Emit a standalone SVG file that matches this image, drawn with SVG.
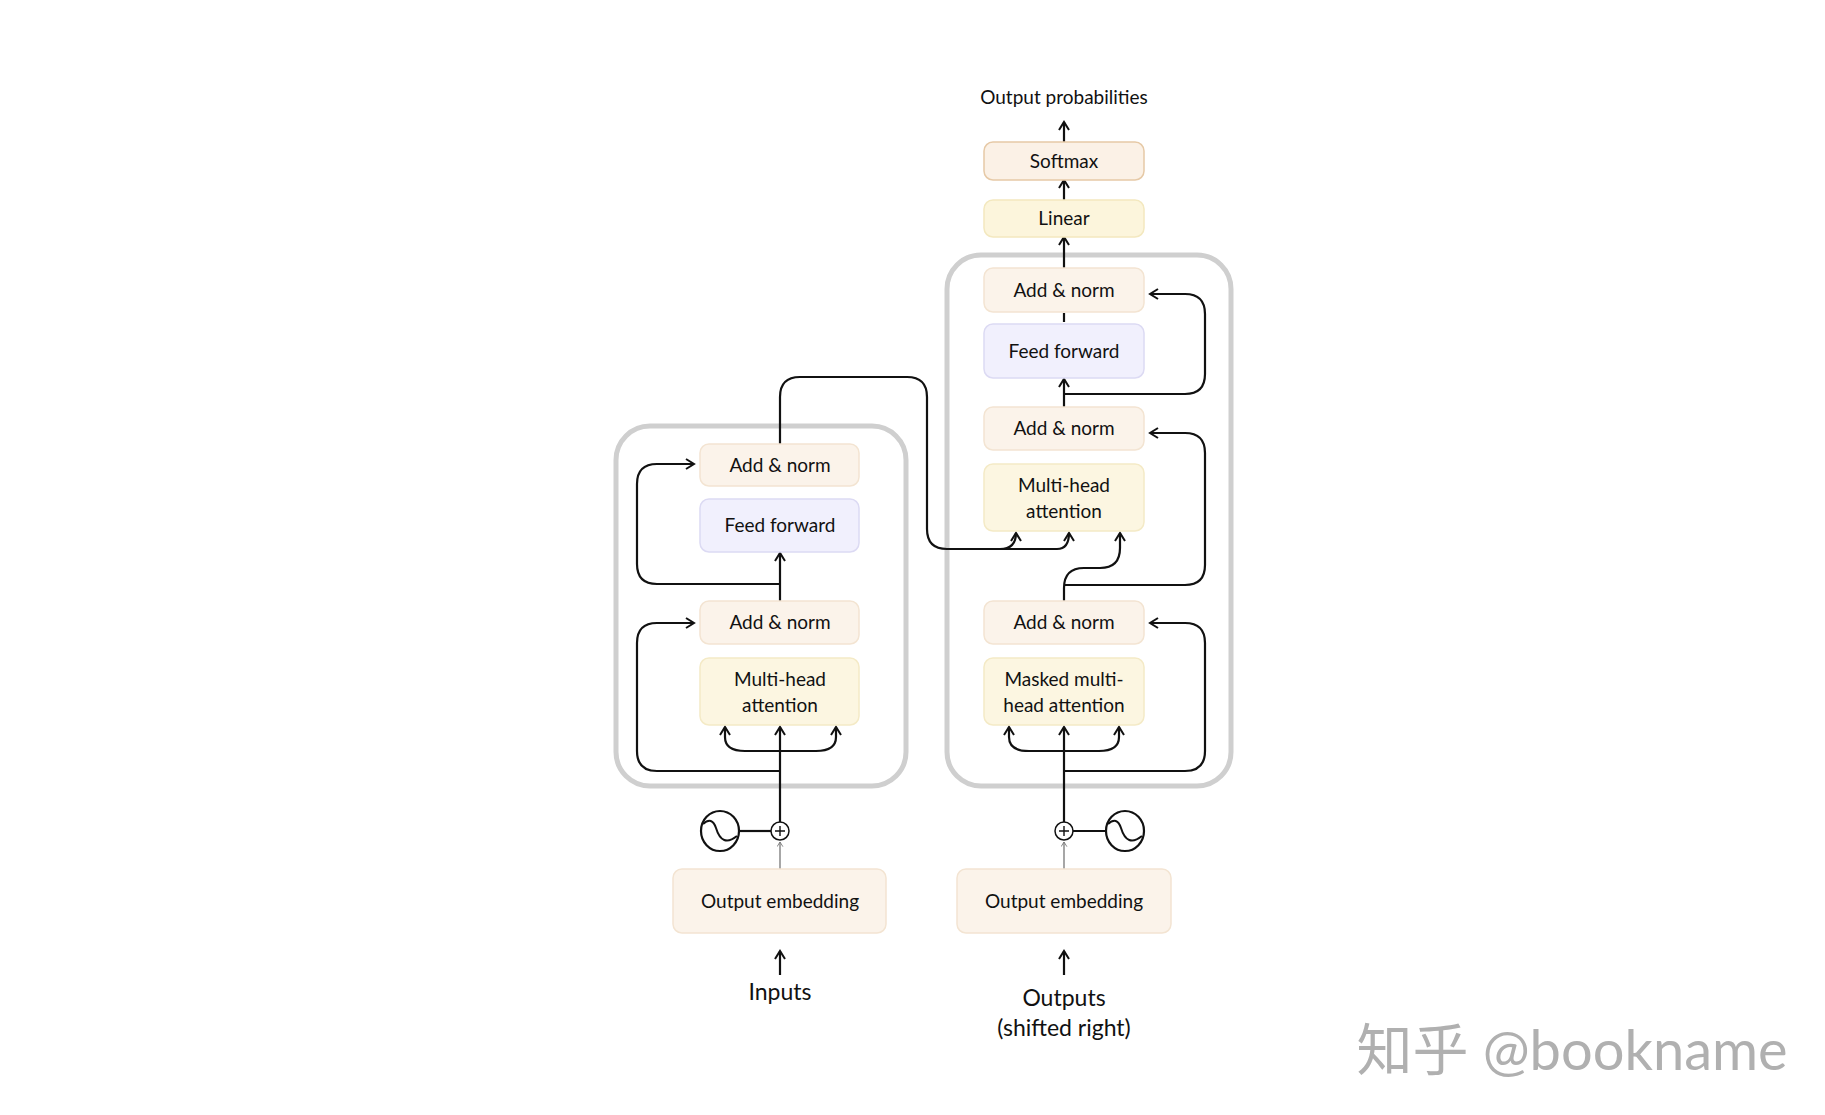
<svg xmlns="http://www.w3.org/2000/svg" width="1825" height="1115" viewBox="0 0 1825 1115">
<style>
text{font-family:Lato,"Noto Sans","Noto Sans CJK SC",sans-serif;fill:#111;text-anchor:middle}
.t{font-size:19px}
.an{fill:#fbf3ea;stroke:#f3e4d2;stroke-width:1.5}
.ff{fill:#f1f0fd;stroke:#dcdaf3;stroke-width:1.5}
.mh{fill:#fcf6e1;stroke:#f4eac6;stroke-width:1.5}
.sm{fill:#fbf1e6;stroke:#e6c9a6;stroke-width:1.5}
.ln{fill:#fcf5dc;stroke:#f3e8bf;stroke-width:1.5}
.blk{fill:none;stroke:#cfcfcf;stroke-width:5}
.c{fill:none;stroke:#111;stroke-width:2.2}
.a{marker-end:url(#ar)}
</style>
<defs>
<marker id="ar" viewBox="0 0 12 12" refX="10" refY="6" markerWidth="12" markerHeight="12" markerUnits="userSpaceOnUse" orient="auto">
<path d="M2,1 L10,6 L2,11" fill="none" stroke="#111" stroke-width="2"/>
</marker>
<marker id="ars" viewBox="0 0 12 12" refX="10" refY="6" markerWidth="7" markerHeight="7" markerUnits="userSpaceOnUse" orient="auto">
<path d="M2,1 L10,6 L2,11" fill="none" stroke="#777" stroke-width="1.5"/>
</marker>
</defs>
<rect width="1825" height="1115" fill="#fff"/>
<rect class="blk" x="616" y="426" width="290" height="360" rx="34"/>
<rect class="blk" x="947" y="255" width="284" height="531" rx="34"/>
<g id="connectors">
<!-- encoder -->
<path class="c" d="M780,831 V751"/>
<path class="c a" d="M780,751 V727"/>
<path class="c a" d="M780,751 H745 Q725,751 725,737 V727"/>
<path class="c a" d="M780,751 H816 Q836,751 836,737 V727"/>
<path class="c a" d="M780,771 H657 Q637,771 637,751 V643 Q637,623 657,623 H694"/>
<path class="c a" d="M780,601 V553"/>
<path class="c a" d="M780,584 H657 Q637,584 637,564 V484 Q637,464 657,464 H694"/>
<path class="c" d="M780,444 V397 Q780,377 800,377 H907 Q927,377 927,397 V529 Q927,549 947,549 H1000"/>
<path class="c a" d="M1000,549 Q1016,549 1016,533"/>
<path class="c a" d="M1000,549 H1057 Q1069,549 1069,533"/>
<!-- decoder -->
<path class="c" d="M1064,822 V751"/>
<path class="c a" d="M1064,751 V727"/>
<path class="c a" d="M1064,751 H1029 Q1009,751 1009,737 V727"/>
<path class="c a" d="M1064,751 H1099 Q1119,751 1119,737 V727"/>
<path class="c a" d="M1064,771 H1185 Q1205,771 1205,751 V643 Q1205,623 1185,623 H1150"/>
<path class="c a" d="M1064,601 V588 Q1064,568 1084,568 H1100 Q1120,568 1120,548 V533"/>
<path class="c a" d="M1064,585 H1185 Q1205,585 1205,565 V453 Q1205,433 1185,433 H1150"/>
<path class="c a" d="M1064,407 V379"/>
<path class="c a" d="M1064,394 H1185 Q1205,394 1205,374 V314 Q1205,294 1185,294 H1150"/>
<path class="c" d="M1064,313 V322"/>
<path class="c a" d="M1064,268 V237"/>
<path class="c a" d="M1064,200 V180"/>
<path class="c a" d="M1064,142 V122"/>
<!-- embeddings -->
<path d="M780,869 V842" stroke="#777" stroke-width="1.3" fill="none" marker-end="url(#ars)"/>
<path d="M1064,869 V842" stroke="#777" stroke-width="1.3" fill="none" marker-end="url(#ars)"/>
<path class="c" d="M739,831 H771"/>
<path class="c" d="M1073,831 H1106"/>
<path class="c a" d="M780,975 V951"/>
<path class="c a" d="M1064,975 V951"/>
</g>
<g id="pe-enc">
<circle cx="780" cy="831" r="9" fill="#fff" stroke="#111" stroke-width="1.5"/>
<path d="M775,831 H785 M780,826 V836" stroke="#111" stroke-width="1.4"/>
<ellipse cx="720" cy="831" rx="19" ry="20" fill="#fff" stroke="#111" stroke-width="2.2"/>
<path d="M703,824 Q712,816 716,828 Q722,848 737,836" fill="none" stroke="#111" stroke-width="2"/>
</g>
<g id="pe-dec">
<circle cx="1064" cy="831" r="9" fill="#fff" stroke="#111" stroke-width="1.5"/>
<path d="M1059,831 H1069 M1064,826 V836" stroke="#111" stroke-width="1.4"/>
<ellipse cx="1125" cy="831" rx="19" ry="20" fill="#fff" stroke="#111" stroke-width="2.2"/>
<path d="M1108,824 Q1117,816 1121,828 Q1127,848 1142,836" fill="none" stroke="#111" stroke-width="2"/>
</g>
<g id="enc-an2"><rect class="an" x="700" y="444" width="159" height="42" rx="9"/><text class="t" x="780" y="472">Add &amp; norm</text></g>
<g id="enc-ff"><rect class="ff" x="700" y="499" width="159" height="53" rx="9"/><text class="t" x="780" y="532">Feed forward</text></g>
<g id="enc-an1"><rect class="an" x="700" y="601" width="159" height="43" rx="9"/><text class="t" x="780" y="629">Add &amp; norm</text></g>
<g id="enc-mh"><rect class="mh" x="700" y="658" width="159" height="67" rx="9"/><text class="t" x="780" y="686">Multi-head</text><text class="t" x="780" y="712">attention</text></g>
<g id="enc-emb"><rect class="an" x="673" y="869" width="213" height="64" rx="9"/><text class="t" x="780" y="908">Output embedding</text></g>
<g id="dec-an3"><rect class="an" x="984" y="268" width="160" height="44" rx="9"/><text class="t" x="1064" y="297">Add &amp; norm</text></g>
<g id="dec-ff"><rect class="ff" x="984" y="324" width="160" height="54" rx="9"/><text class="t" x="1064" y="358">Feed forward</text></g>
<g id="dec-an2"><rect class="an" x="984" y="407" width="160" height="43" rx="9"/><text class="t" x="1064" y="435">Add &amp; norm</text></g>
<g id="dec-mh"><rect class="mh" x="984" y="464" width="160" height="67" rx="9"/><text class="t" x="1064" y="492">Multi-head</text><text class="t" x="1064" y="518">attention</text></g>
<g id="dec-an1"><rect class="an" x="984" y="601" width="160" height="43" rx="9"/><text class="t" x="1064" y="629">Add &amp; norm</text></g>
<g id="dec-mmh"><rect class="mh" x="984" y="658" width="160" height="67" rx="9"/><text class="t" x="1064" y="686">Masked multi-</text><text class="t" x="1064" y="712">head attention</text></g>
<g id="dec-emb"><rect class="an" x="957" y="869" width="214" height="64" rx="9"/><text class="t" x="1064" y="908">Output embedding</text></g>
<g id="linear"><rect class="ln" x="984" y="200" width="160" height="37" rx="9"/><text class="t" x="1064" y="225">Linear</text></g>
<g id="softmax"><rect class="sm" x="984" y="142" width="160" height="38" rx="9"/><text class="t" x="1064" y="168">Softmax</text></g>
<text class="t" x="1064" y="104">Output probabilities</text>
<text x="780" y="1000" font-size="23">Inputs</text>
<text x="1064" y="1006" font-size="23">Outputs</text>
<text x="1064" y="1036" font-size="23">(shifted right)</text>
<text x="1572" y="1070" font-size="56" style="fill:#b0b0b0">知乎 @bookname</text>
</svg>
